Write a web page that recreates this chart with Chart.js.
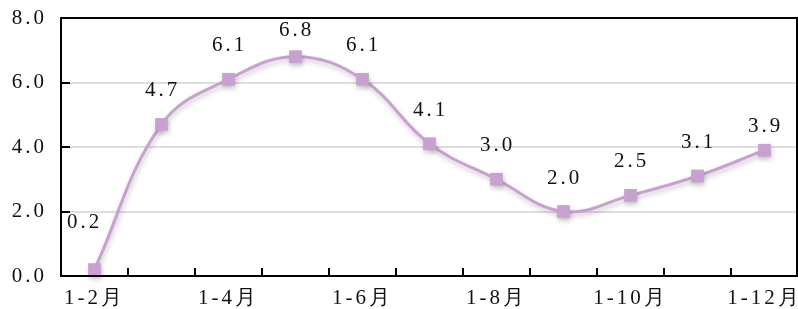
<!DOCTYPE html>
<html>
<head>
<meta charset="utf-8">
<script src="https://cdn.jsdelivr.net/npm/chart.js@4.4.0/dist/chart.umd.min.js"></script>
<style>
  html, body { margin: 0; padding: 0; background: #fff; }
  #wrap { width: 798px; height: 309px; }
</style>
</head>
<body>
<div id="wrap"><canvas id="growthChart"></canvas></div>
<script>
// chart data
const months = ["1-2月", "1-3月", "1-4月", "1-5月", "1-6月", "1-7月", "1-8月", "1-9月", "1-10月", "1-11月", "1-12月"];
const growth = [0.2, 4.7, 6.1, 6.8, 6.1, 4.1, 3.0, 2.0, 2.5, 3.1, 3.9];
const yTicks = [0, 2, 4, 6, 8];

const serif = "'Liberation Serif', 'DejaVu Serif', serif";
const lineColor = "#c9a1d0";

// wider letter spacing, like the original typeface
const spacingPlugin = {
    id: "spacing",
    beforeUpdate(chart) { chart.ctx.letterSpacing = "3px"; },
    beforeDraw(chart) { chart.ctx.letterSpacing = "3px"; }
};

// frame + inner tick marks
const framePlugin = {
    id: "frame",
    afterDraw(chart) {
        let ctx = chart.ctx;
        let a = chart.chartArea;
        let x = chart.scales.x;
        let y = chart.scales.y;
        ctx.save();
        ctx.strokeStyle = "#000";
        ctx.lineWidth = 2;
        ctx.strokeRect(a.left, a.top, a.right - a.left - 1, a.bottom - a.top);
        ctx.beginPath();
        for (let i = 1; i < months.length; i++) {
            let px = Math.round((x.getPixelForValue(i - 1) + x.getPixelForValue(i)) / 2);
            ctx.moveTo(px, a.bottom);
            ctx.lineTo(px, a.bottom - 8);
        }
        yTicks.forEach(v => {
            let py = Math.round(y.getPixelForValue(v));
            ctx.moveTo(a.left, py);
            ctx.lineTo(a.left + 9, py);
        });
        ctx.stroke();
        ctx.restore();
    }
};

// value labels above the points (a few were nudged in the original)
const labelPlugin = {
    id: "valueLabels",
    afterDatasetsDraw(chart) {
        let ctx = chart.ctx;
        let meta = chart.getDatasetMeta(0);
        ctx.save();
        ctx.font = "21px " + serif;
        ctx.fillStyle = "#111";
        ctx.textAlign = "center";
        ctx.textBaseline = "alphabetic";
        meta.data.forEach((pt, i) => {
            let dx = i === 0 ? -11 : 0;
            let dy = 28;
            if (i === 0) dy = 42;
            if (i === 3) dy = 21;
            if (i === months.length - 1) dy = 18;
            ctx.fillText(growth[i].toFixed(1), pt.x + dx + 1, pt.y - dy);
        });
        ctx.restore();
    }
};

// soft shadow under the line
const shadowPlugin = {
    id: "lineShadow",
    beforeDatasetDraw(chart) {
        let ctx = chart.ctx;
        ctx.save();
        ctx.shadowColor = "rgba(0,0,0,0.22)";
        ctx.shadowBlur = 5;
        ctx.shadowOffsetX = 1;
        ctx.shadowOffsetY = 3;
    },
    afterDatasetDraw(chart) {
        chart.ctx.restore();
    }
};

new Chart(document.getElementById("growthChart"), {
    type: "line",
    data: {
        labels: months,
        datasets: [{
            data: growth,
            borderColor: lineColor,
            backgroundColor: lineColor,
            borderWidth: 3,
            tension: 0.4,
            pointStyle: "rect",
            pointRadius: 9,
            pointHoverRadius: 9,
            pointBorderWidth: 0,
            clip: false
        }]
    },
    options: {
        responsive: true,
        maintainAspectRatio: false,
        animation: false,
        layout: { autoPadding: false, padding: { top: 18, right: 0, left: 0, bottom: 0 } },
        plugins: {
            legend: { display: false },
            tooltip: { enabled: false }
        },
        scales: {
            x: {
                offset: true,
                grid: { display: false, drawTicks: false },
                border: { display: false },
                afterFit: s => { s.height = 33; s.paddingLeft = 0; s.paddingRight = 0; },
                ticks: {
                    autoSkip: false,
                    maxRotation: 0,
                    padding: 10,
                    color: "#111",
                    font: { family: serif, size: 21 },
                    callback: (v, i) => (i % 2 === 0 ? months[i] : "")
                }
            },
            y: {
                min: 0,
                max: 8,
                afterBuildTicks: s => { s.ticks = yTicks.map(v => ({ value: v })); },
                afterFit: s => { s.width = 61; s.paddingTop = 0; s.paddingBottom = 0; },
                grid: { color: "#dedede", lineWidth: 2, drawTicks: false },
                border: { display: false },
                ticks: {
                    padding: 14,
                    color: "#111",
                    font: { family: serif, size: 21 },
                    callback: v => v.toFixed(1)
                }
            }
        }
    },
    plugins: [spacingPlugin, shadowPlugin, labelPlugin, framePlugin]
});
</script>
</body>
</html>
